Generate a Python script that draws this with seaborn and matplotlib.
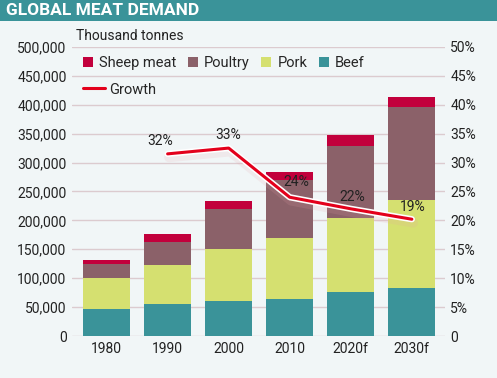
import numpy as np
import pandas as pd
import matplotlib
matplotlib.use("Agg")
import matplotlib.pyplot as plt
import matplotlib.patheffects as pe
from matplotlib.patches import Patch, Rectangle
from matplotlib.lines import Line2D
import seaborn as sns

years = ["1980", "1990", "2000", "2010", "2020f", "2030f"]
beef = [46000, 55000, 60500, 64000, 75500, 82500]
pork = [54000, 68000, 89500, 106000, 129000, 153000]
poultry = [24000, 39000, 69000, 100000, 124000, 160000]
sheep = [7500, 14000, 15000, 14000, 19500, 18000]
growth_years = ["1990", "2000", "2010", "2020f", "2030f"]
growth = [31.5, 32.5, 24.0, 22.0, 20.2]
growth_labels = ["32%", "33%", "24%", "22%", "19%"]
left_ticks = [0, 50000, 100000, 150000, 200000, 250000, 300000, 350000, 400000, 450000, 500000]
right_ticks = [0, 5, 10, 15, 20, 25, 30, 35, 40, 45, 50]

series_names = ["Sheep meat", "Poultry", "Pork", "Beef"]
colors = {"Sheep meat": "#c2003c", "Poultry": "#8b6169", "Pork": "#d5e070", "Beef": "#3a9399"}

sns.set_theme(style="white")
plt.rcParams["font.family"] = ["Roboto", "DejaVu Sans"]

fig = plt.figure(figsize=(4.97, 3.78), dpi=100, facecolor="#f1f6f7")
ax = fig.add_axes([0.145, 0.111, 0.75, 0.765])
ax.set_facecolor("none")

df = pd.DataFrame({"year": years, "Beef": beef, "Pork": pork,
                   "Poultry": poultry, "Sheep meat": sheep})
df["c_beef"] = df["Beef"]
df["c_pork"] = df["c_beef"] + df["Pork"]
df["c_poultry"] = df["c_pork"] + df["Poultry"]
df["c_sheep"] = df["c_poultry"] + df["Sheep meat"]

for col, name in [("c_sheep", "Sheep meat"), ("c_poultry", "Poultry"),
                  ("c_pork", "Pork"), ("c_beef", "Beef")]:
    sns.barplot(data=df, x="year", y=col, color=colors[name], saturation=1,
                width=0.77, ax=ax, zorder=3, linewidth=0)

ax.set_ylim(0, 500000)
ax.set_xlim(-0.565, 5.54)
ax.set_yticks(left_ticks)
ax.set_yticklabels([f"{v:,}" for v in left_ticks])
ax.yaxis.grid(True, color="#dccbcf", linewidth=1.0, zorder=0)
ax.set_axisbelow(True)
ax.set_xlabel("")
ax.set_ylabel("")
ax.tick_params(axis="both", length=0, labelsize=10, colors="#222222", pad=4)
for s in ax.spines.values():
    s.set_visible(False)

ax2 = ax.twinx()
ax2.set_ylim(0, 50)
ax2.set_yticks(right_ticks)
ax2.set_yticklabels(["0"] + [f"{v}%" for v in right_ticks[1:]])
ax2.tick_params(axis="y", length=0, labelsize=10, colors="#222222", pad=4)
for s in ax2.spines.values():
    s.set_visible(False)
ax2.grid(False)

gx = [years.index(y) for y in growth_years]
gdf = pd.DataFrame({"x": gx, "g": growth})
sns.lineplot(data=gdf, x="x", y="g", ax=ax2, color="#e3001b", linewidth=2.2,
             zorder=5,
             path_effects=[pe.SimpleLineShadow(offset=(1, -2.5), shadow_color="#e8a0a8", alpha=0.15, linewidth=7),
                           pe.Stroke(linewidth=4.5, foreground="white"), pe.Normal()])
ax2.set_xlim(-0.565, 5.54)
ax2.set_xlabel("")
ax2.set_ylabel("")

offsets = [(-0.124, 2.2), (-0.01, 2.3), (0.11, 2.6), (0.03, 2.0), (0.01, 2.1)]
for x, g, lab, (dx, dy) in zip(gx, growth, growth_labels, offsets):
    ax2.text(x + dx, g + dy, lab, ha="center", va="center", fontsize=10, color="#222222", zorder=6)

# legend
handles = [Patch(facecolor=colors[n], edgecolor="none", label=n) for n in series_names]
leg1 = fig.legend(handles=handles, loc="upper left", bbox_to_anchor=(0.155, 0.868), ncol=4,
                  frameon=False, fontsize=10.5, handlelength=0.7, handleheight=0.7,
                  handletextpad=0.4, columnspacing=0.8, borderaxespad=0)
leg2 = fig.legend(handles=[Line2D([0], [0], color="#e3001b", linewidth=2.2, label="Growth")],
                  loc="upper left", bbox_to_anchor=(0.155, 0.797), frameon=False, fontsize=10.5,
                  handlelength=1.5, handletextpad=0.3, borderaxespad=0)

fig.text(0.152, 0.905, "Thousand tonnes", fontsize=10, color="#222222", ha="left", va="center")

# title banner
fig.patches.append(Rectangle((0, 0.945), 1, 0.055, transform=fig.transFigure,
                             facecolor="#3a9399", edgecolor="none", zorder=0))
fig.text(0.012, 0.971, "GLOBAL MEAT DEMAND", fontsize=12.5, fontweight="bold",
         color="white", ha="left", va="center")

fig.savefig("out.png", dpi=100, facecolor=fig.get_facecolor())
